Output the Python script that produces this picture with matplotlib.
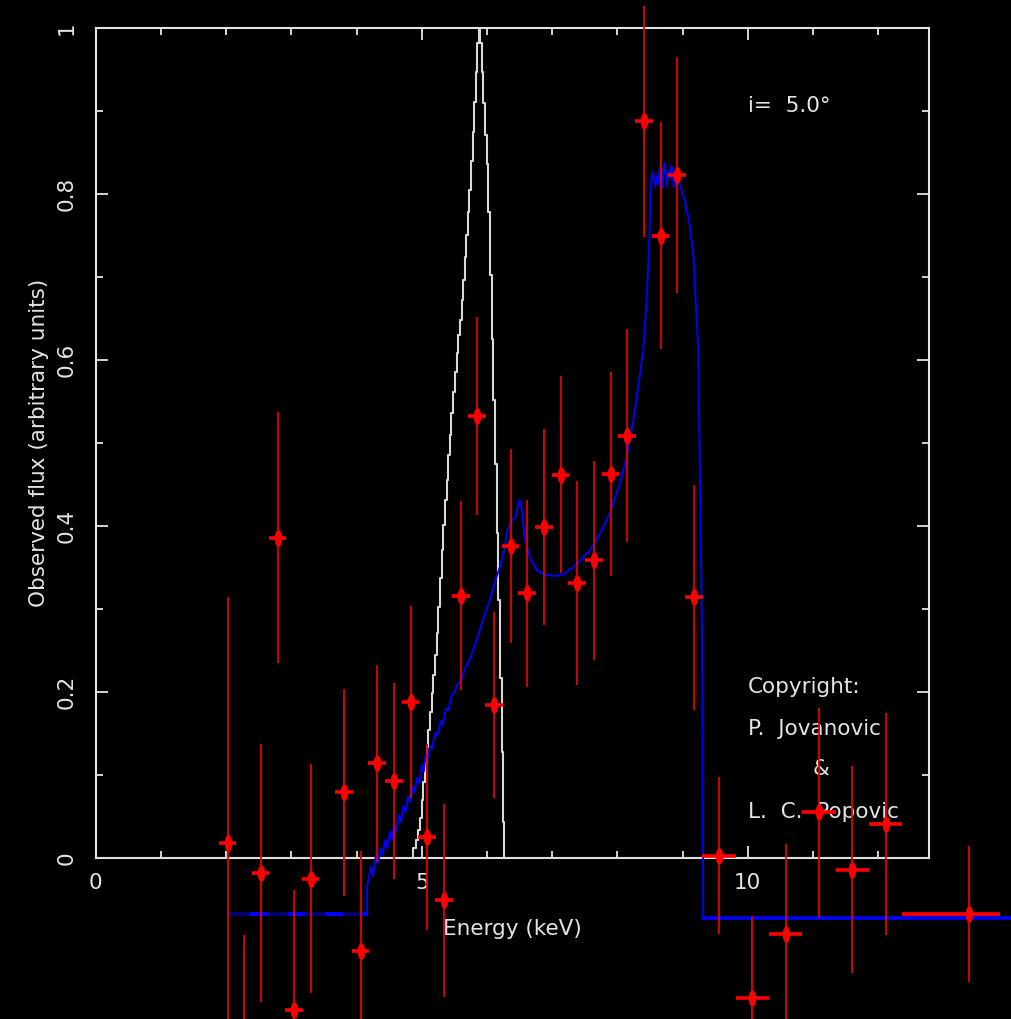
import numpy as np
import matplotlib
matplotlib.use("Agg")
import matplotlib.pyplot as plt
from matplotlib.path import Path
from matplotlib.ticker import MultipleLocator

plt.rcParams['lines.scale_dashes'] = False
plt.rcParams['font.family'] = ['DejaVu Sans']

# ---------------- data ----------------
# observed spectrum (red points)
obs_E = [2.023, 2.278, 2.529, 2.790, 3.040, 3.296, 3.807, 4.063, 4.317, 4.574,
         4.830, 5.084, 5.340, 5.597, 5.851, 6.107, 6.363, 6.618, 6.874, 7.130,
         7.385, 7.641, 7.897, 8.152, 8.408, 8.664, 8.919, 9.175,
         9.558, 10.069, 10.581, 11.092, 11.603, 12.115, 13.393]
obs_F = [0.018, -0.243, -0.018, 0.386, -0.183, -0.025, 0.079, -0.112, 0.114, 0.093,
         0.188, 0.025, -0.051, 0.316, 0.533, 0.184, 0.376, 0.319, 0.399, 0.462,
         0.331, 0.359, 0.463, 0.509, 0.888, 0.750, 0.823, 0.314,
         0.003, -0.169, -0.092, 0.055, -0.014, 0.041, -0.067]
obs_Ferr = [0.296, 0.150, 0.155, 0.151, 0.145, 0.138, 0.125, 0.121, 0.119, 0.118,
            0.116, 0.112, 0.116, 0.114, 0.119, 0.112, 0.117, 0.113, 0.118, 0.119,
            0.123, 0.120, 0.123, 0.128, 0.139, 0.137, 0.142, 0.136,
            0.095, 0.099, 0.109, 0.126, 0.125, 0.134, 0.082]
obs_Eerr_lo = [0.135] * 28 + [0.256] * 6 + [1.032]
obs_Eerr_hi = [0.135] * 28 + [0.256] * 6 + [0.475]

# white line profile (step histogram)
prof_E = [0.0, 4.870, 4.911, 4.946, 4.972, 4.998, 5.023, 5.049, 5.075, 5.100,
          5.126, 5.152, 5.176, 5.202, 5.229, 5.253, 5.279, 5.305, 5.330, 5.356,
          5.382, 5.406, 5.433, 5.452, 5.479, 5.509, 5.535, 5.560, 5.581, 5.612,
          5.632, 5.658, 5.683, 5.704, 5.729, 5.755, 5.785, 5.805, 5.827, 5.851,
          5.882, 5.900, 5.919, 5.943, 5.974, 6.000, 6.020, 6.046, 6.072, 6.097,
          6.123, 6.149, 6.164, 6.199, 6.225, 6.241, 6.261, 12.78]
prof_F = [0.000, 0.012, 0.022, 0.034, 0.048, 0.070, 0.092, 0.115, 0.134, 0.154,
          0.176, 0.199, 0.221, 0.245, 0.271, 0.303, 0.337, 0.371, 0.401, 0.431,
          0.456, 0.486, 0.510, 0.536, 0.562, 0.586, 0.609, 0.630, 0.648, 0.673,
          0.697, 0.724, 0.751, 0.779, 0.805, 0.840, 0.875, 0.911, 0.947, 0.982,
          1.000, 0.982, 0.947, 0.910, 0.871, 0.836, 0.779, 0.703, 0.626, 0.552,
          0.475, 0.392, 0.311, 0.217, 0.128, 0.043, 0.000, 0.000]

# blue model profile
model_E = [2.06, 4.16, 4.16, 4.22, 4.25, 4.30, 4.33, 4.37, 4.40, 4.44, 4.47,
           4.51, 4.54, 4.58, 4.61, 4.65, 4.68, 4.72, 4.75, 4.79, 4.82, 4.86,
           4.89, 4.93, 4.96, 5.00, 5.03, 5.06, 5.09, 5.13, 5.16, 5.20, 5.24,
           5.29, 5.32, 5.37, 5.41, 5.45, 5.50, 5.55, 5.60, 5.66, 5.74, 5.816, 5.867,
           5.95, 6.046, 6.123, 6.199, 6.276, 6.302, 6.379, 6.429, 6.455, 6.491, 6.521,
           6.541, 6.583, 6.660, 6.762, 6.890, 7.069, 7.200, 7.324, 7.450, 7.580,
           7.700, 7.836, 7.940, 8.040, 8.100, 8.164, 8.230, 8.290, 8.350, 8.397,
           8.449, 8.489, 8.515, 8.541, 8.577, 8.600, 8.627, 8.645,
           8.664, 8.680, 8.695, 8.712, 8.730, 8.756, 8.781, 8.807, 8.825, 8.842,
           8.868, 8.890, 8.910, 8.949,
           9.002, 9.037, 9.063, 9.087, 9.164, 9.241, 9.302, 9.317, 14.10]
model_F = [-0.068, -0.068, -0.035, -0.010, -0.022, 0.005, -0.005, 0.012, 0.003, 0.022, 0.012,
           0.032, 0.022, 0.042, 0.032, 0.052, 0.043, 0.063, 0.055, 0.075, 0.067, 0.086,
           0.079, 0.097, 0.090, 0.112, 0.104, 0.125, 0.120, 0.135, 0.132, 0.150, 0.148,
           0.165, 0.160, 0.180, 0.178, 0.195, 0.200, 0.210, 0.213, 0.228, 0.240, 0.257, 0.269,
           0.290, 0.311, 0.333, 0.351, 0.375, 0.392, 0.407, 0.410, 0.416, 0.431, 0.429,
           0.416, 0.383, 0.362, 0.347, 0.341, 0.340, 0.343, 0.351, 0.360, 0.371,
           0.386, 0.407, 0.428, 0.452, 0.470, 0.492, 0.520, 0.552, 0.585, 0.612,
           0.673, 0.741, 0.817, 0.827, 0.809, 0.822, 0.811, 0.830,
           0.835, 0.812, 0.808, 0.833, 0.838, 0.809, 0.827, 0.820, 0.834, 0.832,
           0.808, 0.825, 0.820, 0.815,
           0.799, 0.793, 0.777, 0.775, 0.729, 0.612, 0.251, -0.072, -0.072]

x_ticks = [0, 5, 10]
y_ticks = [0, 0.2, 0.4, 0.6, 0.8, 1]
x_ticklabels = ['0', '5', '10']
y_ticklabels = ['0', '0.2', '0.4', '0.6', '0.8', '1']

# ---------------- figure ----------------
W, H = 1011, 1019
fig = plt.figure(figsize=(W / 100, H / 100), dpi=100, facecolor='black')
ax = fig.add_axes([95.8 / W, 1 - 858 / H, 833.2 / W, 829.7 / H], facecolor='black')
ax.set_xlim(0, 12.78)
ax.set_ylim(0, 1)

fg = '#e4e4e4'
for s in ax.spines.values():
    s.set_color(fg)
    s.set_linewidth(1.5)
    s.set_zorder(1)

ax.xaxis.set_major_locator(MultipleLocator(5))
ax.xaxis.set_minor_locator(MultipleLocator(1))
ax.yaxis.set_major_locator(MultipleLocator(0.2))
ax.yaxis.set_minor_locator(MultipleLocator(0.1))
ax.set_xticks(x_ticks)
ax.set_xticklabels(x_ticklabels)
ax.set_yticks(y_ticks)
ax.set_yticklabels(y_ticklabels)
ax.tick_params(which='both', direction='in', colors=fg, top=True, right=True,
               labelsize=15.5, width=1.3)
ax.tick_params(which='major', length=8.9)
ax.tick_params(which='minor', length=5.0)
ax.tick_params(axis='x', pad=10.5)
ax.tick_params(axis='y', pad=13.5, labelrotation=90)
for lab in ax.get_yticklabels():
    lab.set_va('center')

ax.set_xlabel('Energy (keV)', color=fg, fontsize=15.5)
ax.xaxis.set_label_coords(0.5, (858 - 919) / 829.7)
ax.set_ylabel('Observed flux (arbitrary units)', color=fg, fontsize=15.5)
ax.yaxis.set_label_coords((49 - 95.8) / 833.2, 0.5)

# white profile
ax.plot(prof_E, prof_F, drawstyle='steps-post', color='#d8d8d8', lw=1.5, zorder=2)

# blue model
mE = np.array(model_E)
mF = np.array(model_F)
ax.plot(mE[:2], mF[:2], color='#000078', lw=2.6, clip_on=False, zorder=3)
ax.plot([2.365, mE[1]], mF[:2], color='#0000ff', lw=2.8, dashes=(13, 14),
        clip_on=False, zorder=3)
ax.plot(mE[1:-1], mF[1:-1], color='#0000ff', lw=1.4, clip_on=False, zorder=3)
ax.plot(mE[-2:], mF[-2:], color='#0000ff', lw=2.6, clip_on=False, zorder=3)

# red data
ell = Path.unit_circle().transformed(matplotlib.transforms.Affine2D().scale(0.45, 1.0))
ax.errorbar(obs_E, obs_F, yerr=obs_Ferr, fmt='none', ecolor='#e60000',
            elinewidth=1.3, capsize=0, clip_on=False, zorder=4)
ax.errorbar(obs_E, obs_F, xerr=[obs_Eerr_lo, obs_Eerr_hi], fmt='none', ecolor='#ff0000',
            elinewidth=2.6, capsize=0, clip_on=False, zorder=5)
ax.plot(obs_E, obs_F, linestyle='none', marker=ell, markersize=12,
        color='#ff0000', markeredgewidth=0, clip_on=False, zorder=6)

# annotations
ax.text(10.0, 0.899, 'i=  5.0°', color=fg, fontsize=15.5, va='baseline', ha='left')
ax.text(10.0, 0.199, 'Copyright:', color=fg, fontsize=15.5, va='baseline', ha='left')
ax.text(10.0, 0.148, 'P.  Jovanovic', color=fg, fontsize=15.5, va='baseline', ha='left')
ax.text(11.0, 0.100, '&', color=fg, fontsize=15.5, va='baseline', ha='left')
ax.text(10.0, 0.048, 'L.  C.  Popovic', color=fg, fontsize=15.5, va='baseline', ha='left')

fig.savefig('out.png', dpi=100, facecolor='black')
